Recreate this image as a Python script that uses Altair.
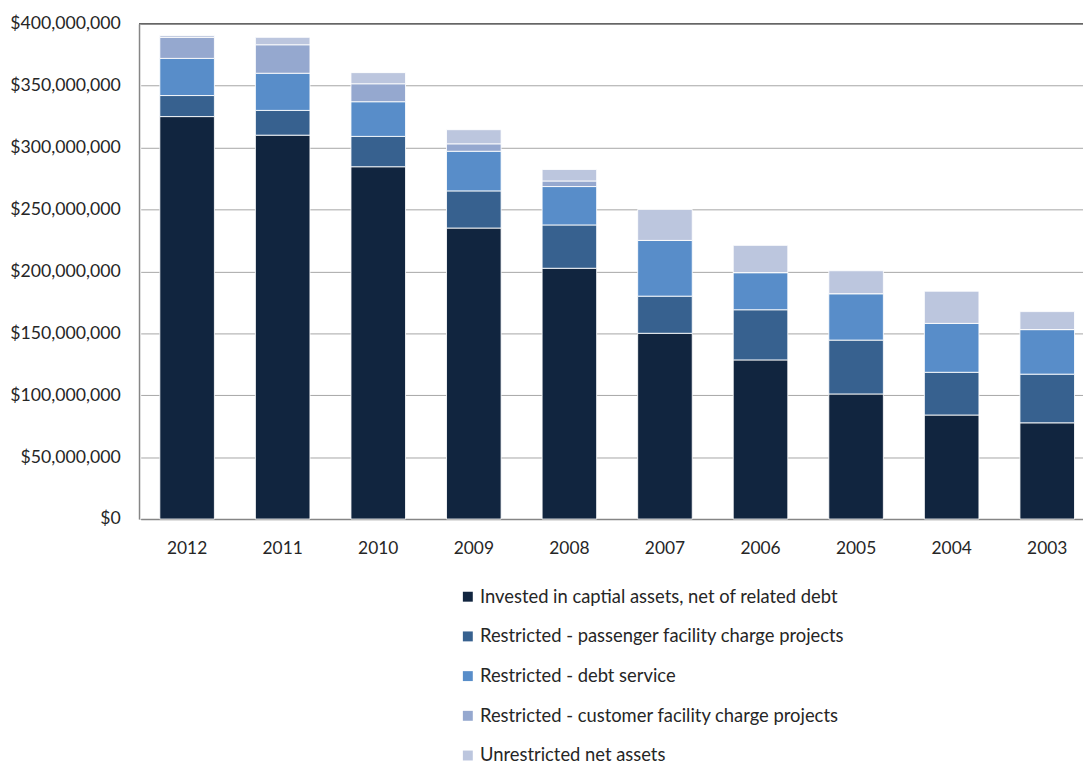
import altair as alt
import pandas as pd

years = ["2012", "2011", "2010", "2009", "2008", "2007", "2006", "2005", "2004", "2003"]
series_names = [
    "Invested in captial assets, net of related debt",
    "Restricted - passenger facility charge projects",
    "Restricted - debt service",
    "Restricted - customer facility charge projects",
    "Unrestricted net assets",
]
colors = ["#11253f", "#37618f", "#588dc9", "#95a8cf", "#bcc6de"]

# values in millions of dollars
invested = [325.0, 310.0, 284.5, 235.0, 202.5, 150.0, 128.5, 101.0, 84.0, 77.7]
pfc = [17.0, 20.0, 24.5, 30.0, 35.0, 30.0, 40.5, 43.5, 34.5, 39.3]
debt_service = [30.0, 30.0, 28.0, 32.0, 31.0, 45.0, 30.0, 37.5, 39.5, 36.0]
cfc = [17.0, 23.0, 14.5, 6.0, 4.5, 0.0, 0.0, 0.0, 0.0, 0.0]
unrestricted = [1.5, 6.0, 9.0, 11.4, 9.3, 25.0, 22.0, 18.5, 26.0, 14.5]

y_ticks = [0, 50e6, 100e6, 150e6, 200e6, 250e6, 300e6, 350e6, 400e6]

all_series = [invested, pfc, debt_service, cfc, unrestricted]
rows = []
for si, (name, vals) in enumerate(zip(series_names, all_series)):
    for yr, v in zip(years, vals):
        rows.append({"year": yr, "series": name, "order": si, "value": v * 1_000_000})
df = pd.DataFrame(rows)

FONT = "Lato"
TXT = "#262626"

bars = alt.Chart(df).mark_bar(stroke="white", strokeWidth=1, strokeOpacity=0.85).encode(
    x=alt.X(
        "year:N",
        sort=years,
        scale=alt.Scale(range=[1.7, 961.7], paddingInner=0.429, paddingOuter=0.2),
        axis=alt.Axis(
            title=None,
            labelAngle=0,
            ticks=False,
            tickSize=0,
            labelPadding=21,
            labelFont=FONT,
            labelFontSize=17.5,
            labelColor=TXT,
            domainColor="#868686",
            domainWidth=1.5,
        ),
    ),
    y=alt.Y(
        "value:Q",
        stack="zero",
        scale=alt.Scale(domain=[0, 400e6], nice=False),
        axis=alt.Axis(
            title=None,
            values=y_ticks,
            format="$,.0f",
            ticks=False,
            tickSize=0,
            labelPadding=19,
            labelFont=FONT,
            labelFontSize=17.8,
            labelColor=TXT,
            gridColor="#a6a6a6",
            gridWidth=1,
            domainColor="#868686",
            domainWidth=1.5,
        ),
    ),
    color=alt.Color(
        "series:N",
        sort=series_names,
        scale=alt.Scale(domain=series_names, range=colors),
        legend=alt.Legend(
            title=None,
            orient="none",
            legendX=322,
            legendY=568,
            direction="vertical",
            symbolType="square",
            symbolSize=100,
            symbolStrokeWidth=0,
            labelFont=FONT,
            labelFontSize=18.5,
            labelColor=TXT,
            labelOffset=3,
            rowPadding=21,
            labelLimit=700,
        ),
    ),
    order=alt.Order("order:Q", sort="ascending"),
)

top_rule = alt.Chart(pd.DataFrame({"v": [400e6]})).mark_rule(color="#666666", strokeWidth=1.5).encode(
    y=alt.Y("v:Q")
)

chart = (
    alt.layer(bars, top_rule)
    .properties(
        width=951,
        height=499,
        autosize=alt.AutoSizeParams(type="none"),
        padding={"left": 132, "top": 13, "right": 0, "bottom": 250},
    )
    .configure_view(stroke=None)
    .configure(background="white")
)

chart.save("out.html", embed_options={"renderer": "svg", "actions": False})
